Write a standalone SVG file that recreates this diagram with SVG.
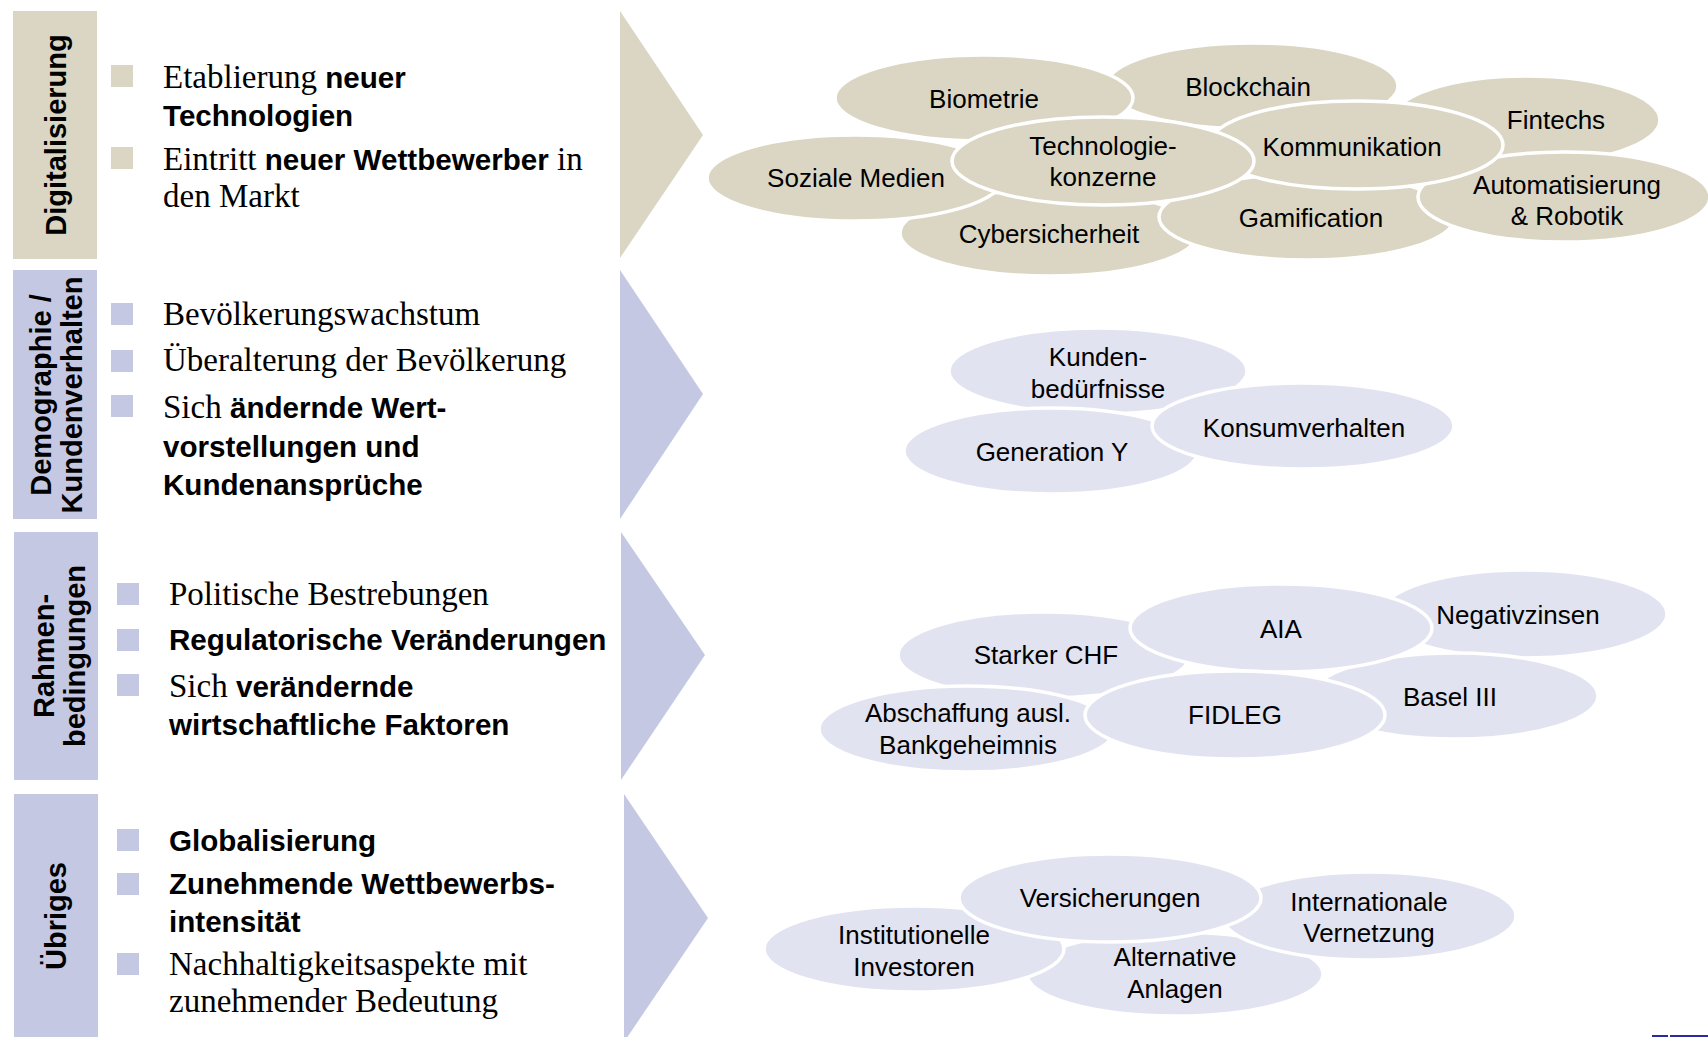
<svg xmlns="http://www.w3.org/2000/svg" width="1708" height="1037" viewBox="0 0 1708 1037">
<style>
.tan{fill:#DAD6C3}
.lav{fill:#C5C8E3}
.et{fill:#DAD6C3;stroke:#FFFFFF;stroke-width:3.5}
.el{fill:#E1E3F0;stroke:#FFFFFF;stroke-width:3.5}
.lbl{font-family:"Liberation Sans",Arial,sans-serif;font-weight:bold;font-size:29px;fill:#000;text-anchor:middle}
.txt{font-family:"Liberation Serif","Times New Roman",serif;font-size:33px;fill:#000}
.b{font-family:"Liberation Sans",Arial,sans-serif;font-weight:bold;font-size:29.6px}
.et-t{font-family:"Liberation Sans",Arial,sans-serif;font-size:26px;fill:#000;text-anchor:middle}
</style>
<rect width="1708" height="1037" fill="#FFFFFF"/>

<!-- Section 1: Digitalisierung -->
<g id="sec-digitalisierung">
  <rect class="tan" x="13" y="11" width="84" height="248"/>
  <text class="lbl" transform="translate(66,135) rotate(-90)">Digitalisierung</text>
  <polygon class="tan" points="620,11 703,135 620,258"/>
  <rect class="tan" x="111" y="65" width="22" height="22"/>
  <rect class="tan" x="111" y="147" width="22" height="22"/>
  <text class="txt" x="163" y="88">Etablierung <tspan class="b">neuer</tspan></text>
  <text class="txt" x="163" y="126"><tspan class="b">Technologien</tspan></text>
  <text class="txt" x="163" y="170">Eintritt <tspan class="b">neuer Wettbewerber</tspan> in</text>
  <text class="txt" x="163" y="207">den Markt</text>
</g>
<g id="cloud-digitalisierung">
  <g id="n-fintechs"><ellipse class="et" cx="1526" cy="120" rx="134" ry="44"/><text class="et-t" x="1556" y="129">Fintechs</text></g>
  <g id="n-blockchain"><ellipse class="et" cx="1252" cy="86" rx="146" ry="43"/><text class="et-t" x="1248" y="96">Blockchain</text></g>
  <g id="n-biometrie"><ellipse class="et" cx="984" cy="98" rx="149" ry="43"/><text class="et-t" x="984" y="108">Biometrie</text></g>
  <g id="n-cyber"><ellipse class="et" cx="1049" cy="233" rx="149" ry="43"/><text class="et-t" x="1049" y="243">Cybersicherheit</text></g>
  <g id="n-soziale"><ellipse class="et" cx="855" cy="178" rx="148" ry="43"/><text class="et-t" x="856" y="187">Soziale Medien</text></g>
  <g id="n-gamification"><ellipse class="et" cx="1307" cy="217" rx="148" ry="43"/><text class="et-t" x="1311" y="227">Gamification</text></g>
  <g id="n-automatisierung"><ellipse class="et" cx="1564" cy="197" rx="146" ry="45"/><text class="et-t" x="1567" y="194">Automatisierung</text><text class="et-t" x="1567" y="225">&amp; Robotik</text></g>
  <g id="n-kommunikation"><ellipse class="et" cx="1356" cy="145" rx="147" ry="44"/><text class="et-t" x="1352" y="156">Kommunikation</text></g>
  <g id="n-technologie"><ellipse class="et" cx="1103" cy="161" rx="151" ry="44"/><text class="et-t" x="1103" y="155">Technologie-</text><text class="et-t" x="1103" y="186">konzerne</text></g>
</g>

<!-- Section 2: Demographie / Kundenverhalten -->
<g id="sec-demographie">
  <rect class="lav" x="13" y="270" width="84" height="249"/>
  <text class="lbl" transform="translate(51,395) rotate(-90)">Demographie /</text>
  <text class="lbl" transform="translate(82,395) rotate(-90)">Kundenverhalten</text>
  <polygon class="lav" points="620,270 703,394 620,519"/>
  <rect class="lav" x="111" y="303" width="22" height="22"/>
  <rect class="lav" x="111" y="350" width="22" height="22"/>
  <rect class="lav" x="111" y="395" width="22" height="22"/>
  <text class="txt" x="163" y="325">Bevölkerungswachstum</text>
  <text class="txt" x="163" y="371">Überalterung der Bevölkerung</text>
  <text class="txt" x="163" y="418">Sich <tspan class="b">ändernde Wert-</tspan></text>
  <text class="txt" x="163" y="457"><tspan class="b">vorstellungen und</tspan></text>
  <text class="txt" x="163" y="495"><tspan class="b">Kundenansprüche</tspan></text>
</g>
<g id="cloud-demographie">
  <g id="n-kundenbeduerfnisse"><ellipse class="el" cx="1098" cy="371" rx="149" ry="43"/><text class="et-t" x="1098" y="366">Kunden-</text><text class="et-t" x="1098" y="398">bedürfnisse</text></g>
  <g id="n-generationy"><ellipse class="el" cx="1051" cy="451" rx="147" ry="43"/><text class="et-t" x="1052" y="461">Generation Y</text></g>
  <g id="n-konsum"><ellipse class="el" cx="1303" cy="426" rx="151" ry="43"/><text class="et-t" x="1304" y="437">Konsumverhalten</text></g>
</g>

<!-- Section 3: Rahmenbedingungen -->
<g id="sec-rahmen">
  <rect class="lav" x="14" y="532" width="84" height="248"/>
  <text class="lbl" transform="translate(54,656) rotate(-90)">Rahmen-</text>
  <text class="lbl" transform="translate(85,656) rotate(-90)">bedingungen</text>
  <polygon class="lav" points="621,532 705,655 621,780"/>
  <rect class="lav" x="117" y="583" width="22" height="22"/>
  <rect class="lav" x="117" y="629" width="22" height="22"/>
  <rect class="lav" x="117" y="674" width="22" height="22"/>
  <text class="txt" x="169" y="605">Politische Bestrebungen</text>
  <text class="txt" x="169" y="650"><tspan class="b">Regulatorische Veränderungen</tspan></text>
  <text class="txt" x="169" y="697">Sich <tspan class="b">verändernde</tspan></text>
  <text class="txt" x="169" y="735"><tspan class="b">wirtschaftliche Faktoren</tspan></text>
</g>
<g id="cloud-rahmen">
  <g id="n-negativzinsen"><ellipse class="el" cx="1524" cy="614" rx="143" ry="44"/><text class="et-t" x="1518" y="624">Negativzinsen</text></g>
  <g id="n-basel"><ellipse class="el" cx="1455" cy="696" rx="143" ry="43"/><text class="et-t" x="1450" y="706">Basel III</text></g>
  <g id="n-starker"><ellipse class="el" cx="1044" cy="655" rx="146" ry="43"/><text class="et-t" x="1046" y="664">Starker CHF</text></g>
  <g id="n-abschaffung"><ellipse class="el" cx="967" cy="729" rx="148" ry="43"/><text class="et-t" x="968" y="722">Abschaffung ausl.</text><text class="et-t" x="968" y="754">Bankgeheimnis</text></g>
  <g id="n-aia"><ellipse class="el" cx="1281" cy="628" rx="151" ry="44"/><text class="et-t" x="1281" y="638">AIA</text></g>
  <g id="n-fidleg"><ellipse class="el" cx="1235" cy="715" rx="150" ry="44"/><text class="et-t" x="1235" y="724">FIDLEG</text></g>
</g>

<!-- Section 4: Übriges -->
<g id="sec-uebriges">
  <rect class="lav" x="14" y="794" width="84" height="243"/>
  <text class="lbl" transform="translate(66,916) rotate(-90)">Übriges</text>
  <polygon class="lav" points="624,794 708,918 624,1042"/>
  <rect class="lav" x="117" y="829" width="22" height="22"/>
  <rect class="lav" x="117" y="873" width="22" height="22"/>
  <rect class="lav" x="117" y="953" width="22" height="22"/>
  <text class="txt" x="169" y="851"><tspan class="b">Globalisierung</tspan></text>
  <text class="txt" x="169" y="894"><tspan class="b">Zunehmende Wettbewerbs-</tspan></text>
  <text class="txt" x="169" y="932"><tspan class="b">intensität</tspan></text>
  <text class="txt" x="169" y="975">Nachhaltigkeitsaspekte mit</text>
  <text class="txt" x="169" y="1012">zunehmender Bedeutung</text>
</g>
<g id="cloud-uebriges">
  <g id="n-alternative"><ellipse class="el" cx="1175" cy="974" rx="148" ry="42"/><text class="et-t" x="1175" y="966">Alternative</text><text class="et-t" x="1175" y="998">Anlagen</text></g>
  <g id="n-institutionelle"><ellipse class="el" cx="914" cy="949" rx="150" ry="43"/><text class="et-t" x="914" y="944">Institutionelle</text><text class="et-t" x="914" y="976">Investoren</text></g>
  <g id="n-internationale"><ellipse class="el" cx="1369" cy="916" rx="147" ry="44"/><text class="et-t" x="1369" y="911">Internationale</text><text class="et-t" x="1369" y="942">Vernetzung</text></g>
  <g id="n-versicherungen"><ellipse class="el" cx="1110" cy="898" rx="151" ry="44"/><text class="et-t" x="1110" y="907">Versicherungen</text></g>
</g>

<g id="connectors"></g>

<rect x="1652" y="1035" width="16" height="2" fill="#2B2BA0"/>
<rect x="1670" y="1035" width="38" height="2" fill="#2B2BA0"/>
</svg>
